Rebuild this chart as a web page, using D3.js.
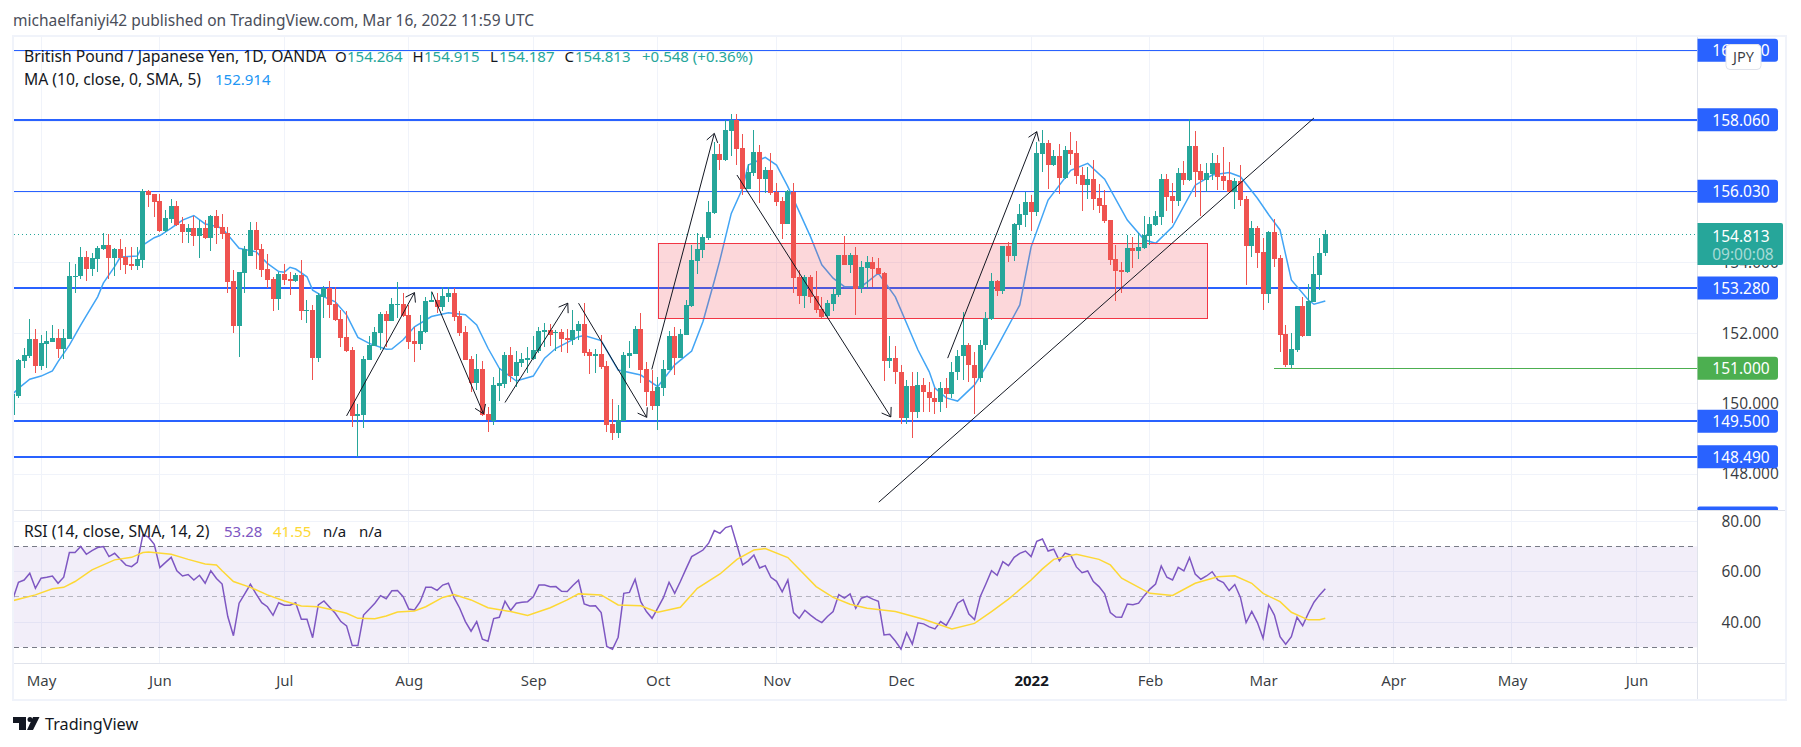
<!DOCTYPE html>
<html>
<head>
<meta charset="utf-8">
<script src="https://cdn.jsdelivr.net/npm/d3@7"></script>
<style>
  html, body { margin: 0; padding: 0; background: #fff; }
  svg { display: block; }
  text { font-family: "Noto Sans", sans-serif; }
</style>
</head>
<body>
<svg id="chart" width="1801" height="747"></svg>
<script>
'use strict'

const highs = [150.39,151.27,151.58,152.40,152.12,151.95,152.06,152.23,152.12,152.12,154.02,153.96,154.45,154.33,154.28,154.48,154.84,154.81,154.42,154.67,
  154.45,154.45,154.45,156.09,156.06,155.95,155.95,155.50,155.81,155.75,155.30,155.10,155.33,155.21,155.21,155.35,155.50,155.38,155.01,153.79,
  153.74,154.48,155.16,155.16,154.53,154.25,153.59,153.74,153.96,153.74,153.71,154.08,152.94,152.80,153.14,153.34,153.48,153.31,152.66,152.63,
  151.61,149.99,151.35,151.92,152.17,152.60,152.63,152.99,153.45,153.14,152.80,152.18,152.52,153.03,153.17,153.14,153.31,153.31,153.28,152.63,
  152.20,151.35,151.41,151.21,149.90,150.76,151.01,151.47,151.61,151.49,151.44,151.61,151.92,152.17,152.29,152.26,152.09,152.12,152.12,152.66,
  152.35,152.86,151.55,151.55,151.95,151.21,150.13,149.96,151.47,151.78,152.20,152.57,151.18,150.95,150.76,151.24,152.06,152.17,152.12,152.94,
  154.50,154.84,154.82,155.75,157.43,157.37,158.05,158.22,158.22,157.65,156.80,157.77,157.34,156.72,157.11,156.26,155.87,156.06,156.26,153.79,
  153.65,153.65,153.76,153.03,152.94,153.25,154.22,154.76,154.28,154.45,154.05,154.19,154.16,154.13,153.74,151.92,151.64,151.10,150.67,150.90,
  150.90,150.73,150.61,150.44,150.61,150.73,151.18,151.52,152.60,151.72,151.47,151.81,152.60,153.71,153.51,154.47,154.59,155.13,155.67,156.01,
  155.92,157.43,157.77,157.48,157.20,157.37,157.31,157.71,157.46,156.72,156.72,156.92,156.23,156.06,155.21,154.50,154.02,154.79,154.73,154.84,
  155.33,155.30,155.47,156.52,156.52,156.26,156.69,156.89,158.08,157.74,156.80,156.83,157.11,157.06,157.29,156.86,156.40,156.77,155.89,155.18,
  155.04,154.70,154.90,155.24,154.22,152.23,152.00,152.77,153.03,153.40,154.19,154.70,154.915]

const opens = [149.68,150.22,151.21,151.35,151.83,151.07,151.69,151.75,151.86,151.55,151.83,153.60,153.62,154.16,153.82,154.11,154.39,154.50,154.14,154.39,
  154.16,153.96,153.91,154.08,156.04,155.95,155.75,154.90,155.24,155.61,155.10,154.87,154.99,154.76,154.99,154.70,155.33,155.01,154.84,153.48,
  152.20,153.71,154.19,154.93,154.39,153.82,153.54,152.97,153.68,153.54,153.48,153.65,152.63,152.66,151.30,153.03,153.28,152.83,152.40,151.89,
  151.52,149.65,149.68,151.24,151.64,152.00,152.54,152.35,152.80,152.83,152.52,151.78,151.69,152.03,152.89,152.94,152.74,153.03,153.14,152.49,
  152.03,151.27,150.58,150.98,149.71,149.51,150.50,150.56,151.38,150.78,151.15,151.24,151.27,151.49,152.03,152.09,152.00,152.03,151.86,151.81,
  152.06,152.26,151.47,151.35,151.41,151.07,149.42,149.17,149.51,151.35,151.41,152.12,150.98,150.36,149.93,150.44,150.95,151.92,151.30,151.95,
  152.77,154.05,154.36,154.70,155.41,157.09,156.92,157.74,158.05,157.26,156.09,156.55,157.14,156.38,156.63,156.01,155.75,155.10,156.01,153.59,
  153.06,153.59,153.06,152.69,152.49,152.83,153.08,154.22,153.94,154.22,153.28,153.85,154.02,153.85,153.71,151.21,151.30,150.90,149.59,150.50,
  149.76,150.53,150.33,150.16,150.05,150.44,150.27,150.90,151.35,151.66,151.10,150.73,151.66,152.40,153.48,153.20,154.47,154.19,155.07,155.35,
  155.72,155.44,157.09,157.40,156.77,157.03,156.41,157.20,157.11,156.49,156.21,156.38,155.84,155.64,155.21,154.11,153.79,153.74,154.42,154.33,
  154.42,154.76,155.07,155.30,156.38,155.89,155.75,156.55,156.35,157.31,156.60,156.35,156.52,156.83,156.46,156.35,156.01,156.32,155.81,154.48,
  154.99,154.30,153.11,154.87,154.13,151.98,151.10,151.52,152.77,151.92,152.89,153.65,154.264]

const lows = [149.62,150.16,151.01,151.30,150.87,150.95,151.01,151.75,151.30,151.27,151.83,153.14,153.54,153.48,153.62,153.74,154.36,153.54,153.62,153.79,
  153.68,153.79,153.79,153.85,155.58,155.30,154.87,154.87,155.13,155.04,154.56,154.56,154.48,154.13,154.67,154.33,154.53,154.67,153.14,152.00,
  151.32,153.14,154.19,153.82,153.59,153.28,152.63,152.66,153.37,153.08,153.45,152.37,152.29,150.67,151.18,152.43,152.43,152.35,151.61,151.47,
  149.34,148.49,149.31,151.24,151.64,151.52,151.61,152.35,152.43,152.46,151.55,151.18,151.52,152.00,152.89,152.57,152.63,152.89,152.35,151.92,
  151.24,150.33,150.39,149.65,149.19,149.39,150.07,150.44,150.61,150.47,151.04,150.87,151.24,151.44,151.61,151.64,151.49,151.47,151.44,151.66,
  151.81,151.35,150.84,150.87,150.98,149.19,148.97,149.02,149.51,151.01,151.41,150.58,149.93,149.82,149.25,150.22,150.95,150.81,151.30,151.95,
  152.74,153.68,154.13,154.65,155.38,156.63,156.89,157.03,156.77,155.92,156.09,156.46,155.69,155.98,155.92,155.61,154.67,155.10,153.14,152.83,
  152.71,152.86,152.57,152.43,152.46,152.63,153.03,153.94,153.71,152.52,153.14,153.28,153.31,153.68,150.64,151.01,150.56,149.42,149.42,149.02,
  149.59,149.76,149.76,149.71,149.76,149.87,150.16,150.67,150.67,150.61,149.71,150.61,151.52,152.37,153.06,153.11,154.02,154.05,154.93,155.01,
  154.90,155.33,156.57,156.09,156.75,155.95,156.38,156.77,156.23,155.47,155.81,155.50,155.41,155.13,153.93,152.91,153.14,153.71,153.85,154.11,
  154.39,154.50,155.04,155.07,155.47,155.13,155.61,156.21,156.32,155.87,155.33,156.01,156.35,156.06,156.06,155.98,155.52,155.61,153.37,154.16,
  153.85,152.66,152.86,153.88,151.47,151.04,151.01,151.47,151.89,151.92,152.89,153.22,154.187]

const closes = [150.27,151.24,151.38,151.83,151.07,151.72,151.78,151.86,151.55,151.86,153.62,153.62,154.16,153.82,154.14,154.42,154.50,154.14,154.39,154.14,
  153.94,153.91,154.11,156.04,155.92,155.72,154.90,155.27,155.61,155.07,154.87,154.99,154.76,154.99,154.70,155.33,154.99,154.82,153.45,152.20,
  153.74,154.39,154.93,154.36,153.79,153.51,152.97,153.68,153.51,153.48,153.65,152.63,152.66,151.30,153.08,153.28,152.80,152.37,151.86,151.49,
  149.65,149.71,151.27,151.66,152.03,152.54,152.35,152.83,152.83,152.49,151.75,151.69,152.06,152.91,152.94,152.74,153.06,153.14,152.46,152.00,
  151.24,150.58,150.98,149.68,149.53,150.53,150.58,151.38,150.78,151.18,151.27,151.30,151.52,152.06,152.09,151.94,152.03,151.83,151.81,152.09,
  152.26,151.44,151.35,151.41,151.04,149.39,149.17,149.53,151.38,151.44,152.12,150.95,150.33,149.93,150.47,150.98,151.92,151.30,151.98,152.80,
  154.08,154.39,154.73,155.44,157.09,156.92,157.77,158.05,157.23,156.09,156.58,157.14,156.38,156.63,155.98,155.72,155.10,156.04,153.57,153.06,
  153.59,153.03,152.66,152.46,152.86,153.11,154.22,153.94,154.22,153.25,153.88,154.02,153.82,153.68,151.21,151.30,150.90,149.59,150.50,149.76,
  150.53,150.33,150.16,150.05,150.44,150.27,150.90,151.35,151.66,151.10,150.73,151.66,152.43,153.48,153.20,154.47,154.19,155.10,155.38,155.72,
  155.44,157.11,157.40,156.77,157.03,156.41,157.20,157.09,156.46,156.21,156.38,155.81,155.61,155.18,154.08,153.76,153.74,154.42,154.33,154.45,
  154.79,155.10,155.33,156.38,155.87,155.75,156.55,156.35,157.31,156.58,156.35,156.55,156.83,156.43,156.32,156.01,156.32,155.78,154.48,154.99,
  154.28,153.11,154.87,154.11,151.95,151.10,151.55,152.77,151.92,152.91,153.68,154.28,154.813]

const maBars = [0,1,3,5,7,8,10,12,13,15,16,18,19,22,23,25,26,28,30,32,34,35,37,39,40,43,45,47,48,49,50,52,53,55,57,59,61,63,66,67,69,71,74,77,80,82,84,86,89,92,94,96,100,101,104,107,111,114,117,120,122,124,125,127,129,130,133,135,137,139,141,143,145,147,150,153,156,160,162,163,165,167,170,172,174,178,180,183,187,190,193,197,200,202,205,209,212,215,217,220,222,224,226,229,230,232]
const maValues = [150.27,150.43,150.69,150.78,150.93,151.19,151.66,152.23,152.50,153.03,153.42,153.89,154.16,154.19,154.50,154.71,154.77,154.98,155.21,155.34,155.10,155.07,154.98,154.60,154.41,154.31,153.98,153.75,153.73,153.87,153.82,153.60,153.22,153.03,152.89,152.52,151.88,151.71,151.54,151.55,151.81,152.18,152.47,152.58,152.52,152.23,151.57,151.00,150.64,150.78,151.29,151.57,151.90,151.93,151.79,150.95,150.81,150.48,151.10,151.49,152.33,153.48,154.08,155.40,156.11,156.77,156.99,156.77,156.16,155.45,154.74,153.94,153.56,153.32,153.32,153.70,153.03,151.52,150.90,150.44,150.16,150.07,150.53,151.04,151.61,152.80,154.45,155.78,156.62,156.82,156.37,155.21,154.65,154.55,155.02,156.20,156.49,156.56,156.44,155.83,155.36,154.93,153.51,152.94,152.82,152.914]

const rsiValues = [49.1,55.8,56.7,59.4,53.4,57.4,57.8,58.3,55.4,57.8,67.6,67.6,70.0,66.9,68.4,69.6,70.0,66.0,67.3,64.9,
  62.6,62.0,63.7,74.6,73.7,70.9,61.6,63.7,65.7,60.4,58.3,58.9,56.7,58.6,55.4,60.4,57.3,55.1,42.2,34.6,
  47.5,51.2,55.0,51.2,47.7,46.1,42.7,47.7,46.7,46.7,47.7,41.1,41.1,33.8,46.8,48.4,45.9,43.5,40.2,38.5,
  30.7,30.7,42.8,45.1,47.5,50.5,49.3,52.4,52.5,50.1,45.2,44.8,48.1,53.8,53.8,52.6,54.7,55.4,49.7,45.5,
  40.2,36.4,40.2,33.2,32.4,41.4,41.9,48.3,44.6,47.5,47.9,48.1,50.0,54.7,54.7,54.0,54.1,52.2,52.1,54.5,
  56.6,47.2,46.4,46.5,43.8,30.3,29.2,34.0,51.4,51.8,57.0,48.1,44.2,41.5,45.5,49.7,55.8,51.4,56.1,61.1,
  66.0,67.3,68.6,71.3,76.3,75.2,77.5,78.2,70.6,62.7,64.3,66.6,61.5,62.4,57.8,56.2,52.0,56.7,43.8,41.5,
  44.7,42.8,41.1,39.8,42.2,44.2,50.9,49.5,51.2,45.5,49.5,50.2,49.1,48.3,34.9,35.2,32.5,29.3,35.8,31.3,
  39.7,39.3,38.1,37.3,40.2,38.7,42.7,47.5,48.9,43.2,41.0,50.1,55.1,60.4,58.6,64.0,62.4,65.7,67.3,68.2,
  66.0,72.1,73.0,68.2,68.9,64.3,67.4,66.6,61.9,59.6,60.3,56.1,54.1,51.2,43.8,42.0,41.9,47.2,46.9,47.5,
  50.5,53.1,55.1,62.3,57.8,56.7,61.7,60.3,65.6,59.1,57.0,58.3,60.0,56.7,55.7,52.5,54.9,49.8,39.8,44.2,
  39.8,33.6,46.9,42.8,34.2,31.2,34.2,41.9,38.6,43.5,47.9,50.8,53.28]

const rsiMaBars = [0,4,7,9,11,14,16,18,21,23,24,28,31,34,36,37,39,42,45,48,51,54,57,59,61,64,66,68,71,73,76,78,81,84,88,91,95,98,100,104,107,111,114,118,121,125,128,131,133,137,142,145,148,151,156,161,166,170,173,176,180,182,184,188,192,194,196,201,205,209,213,216,219,221,224,226,229,231,232]
const rsiMaValues = [48.5,50.8,53.2,53.8,56.1,60.7,62.7,64.7,65.7,67.6,67.8,66.9,64.9,63.1,62.7,60.4,56.1,53.8,50.8,48.4,46.4,46.1,44.6,43.5,41.5,41.3,42.4,44.0,44.4,46.1,49.8,50.9,48.8,45.7,44.2,42.6,45.7,48.8,51.2,50.8,46.8,46.5,43.9,45.9,53.4,59.1,64.9,68.6,69.2,65.6,54.1,49.8,47.1,45.5,44.2,41.1,37.3,39.5,44.2,49.1,56.7,61.1,64.9,66.9,64.9,62.7,57.4,51.4,50.6,55.4,58.0,58.4,55.4,51.4,48.1,43.9,40.9,40.9,41.55]

const monthBars = [5,26,48,70,92,114,135,157,180,201,221,244,265,287]
const monthLabels = ['May','Jun','Jul','Aug','Sep','Oct','Nov','Dec','2022','Feb','Mar','Apr','May','Jun']

const priceTicks = [148,150,152,154]
const priceGrid = [148,150,152,154,156,158,160]
const rsiTicks = [40,60,80]
const rsiBands = [70,50,30]

const levels = [160.03,158.06,156.03,153.28,149.5,148.49]
const thinLevels = [160.03,156.03]
const supportLevel = 151
const supportBar = 223
const lastPrice = 154.813

const arrowFrom = [[59,149.65],[74.05,153.18],[87,150.03],[100,152.85],[112.95,150.97],[128,156.49],[165.25,151.29]]
const arrowTo = [[71,153.15],[83.2,149.71],[98.1,152.85],[112.05,149.61],[124,157.67],[155.2,149.62],[181,157.72]]
const trendFrom = [153.07,147.2]
const trendTo = [230,158.11]
const zoneBars = [114.1,211.2]
const zonePrices = [154.55,152.41]

const GREEN = '#26a69a'
const RED = '#ef5350'
const BLUE = '#2962ff'
const GRID = '#f0f3fa'
const LINE = '#e0e3eb'
const INK = '#131722'

const paneLeft = 13.5
const axisX = 1697.5
const svg = d3.select('#chart')

const x = d3.scaleLinear().domain([0, 232]).range([12.8, 1325.3])
const y = d3.scaleLinear().domain([148, 158.06]).range([474, 119.7])
const yRsi = d3.scaleLinear().domain([30, 80]).range([647.3, 521.3])

svg.append('clipPath').attr('id', 'priceClip').append('rect')
  .attr('x', paneLeft).attr('y', 37).attr('width', axisX - paneLeft).attr('height', 473)
svg.append('clipPath').attr('id', 'rsiClip').append('rect')
  .attr('x', paneLeft).attr('y', 511).attr('width', axisX - paneLeft).attr('height', 152)

// header
svg.append('text').attr('x', 13).attr('y', 26).attr('font-size', 15.5).attr('fill', '#4a4e5a')
  .text('michaelfaniyi42 published on TradingView.com, Mar 16, 2022 11:59 UTC')

// grid
const grid = svg.append('g').attr('stroke', GRID).attr('stroke-width', 1).attr('shape-rendering', 'crispEdges')
grid.selectAll('.v').data(monthBars).enter().append('line')
  .attr('x1', d => x(d)).attr('x2', d => x(d)).attr('y1', 37).attr('y2', 663)
grid.selectAll('.h').data(priceGrid).enter().append('line')
  .attr('x1', paneLeft).attr('x2', axisX).attr('y1', d => y(d)).attr('y2', d => y(d))
grid.selectAll('.r').data(rsiTicks).enter().append('line')
  .attr('x1', paneLeft).attr('x2', axisX).attr('y1', d => yRsi(d)).attr('y2', d => yRsi(d))

// price pane
const price = svg.append('g').attr('clip-path', 'url(#priceClip)')
price.append('line').attr('x1', paneLeft).attr('x2', axisX)
  .attr('y1', y(lastPrice)).attr('y2', y(lastPrice))
  .attr('stroke', GREEN).attr('stroke-dasharray', '1 3').attr('shape-rendering', 'crispEdges')
price.selectAll('.level').data(levels).enter().append('line')
  .attr('x1', paneLeft).attr('x2', axisX)
  .attr('y1', d => y(d)).attr('y2', d => y(d))
  .attr('stroke', BLUE).attr('shape-rendering', 'crispEdges')
  .attr('stroke-width', d => thinLevels.includes(d) ? 1 : 2)
price.append('line').attr('x1', x(supportBar)).attr('x2', axisX)
  .attr('y1', y(supportLevel)).attr('y2', y(supportLevel))
  .attr('stroke', '#4caf50').attr('shape-rendering', 'crispEdges')

const maLine = d3.line().x(d => x(d[0])).y(d => y(d[1]))
price.append('path').attr('d', maLine(d3.zip(maBars, maValues)))
  .attr('fill', 'none').attr('stroke', '#42a5f5').attr('stroke-width', 1.5)

price.append('rect').attr('x', x(zoneBars[0])).attr('width', x(zoneBars[1]) - x(zoneBars[0]))
  .attr('y', y(zonePrices[0])).attr('height', y(zonePrices[1]) - y(zonePrices[0]))
  .attr('fill', 'rgba(242,54,69,0.2)').attr('stroke', '#f23645').attr('shape-rendering', 'crispEdges')

// candles
const candles = price.selectAll('.candle').data(d3.range(closes.length)).enter().append('g')
  .attr('shape-rendering', 'crispEdges')
candles.append('line')
  .attr('x1', d => x(d)).attr('x2', d => x(d))
  .attr('y1', d => y(highs[d])).attr('y2', d => y(lows[d]))
  .attr('stroke', d => closes[d] >= opens[d] ? GREEN : RED)
candles.append('rect')
  .attr('x', d => x(d) - 2.5).attr('width', 5)
  .attr('y', d => y(Math.max(opens[d], closes[d])))
  .attr('height', d => Math.max(1, Math.abs(y(opens[d]) - y(closes[d]))))
  .attr('fill', d => closes[d] >= opens[d] ? GREEN : RED)

// drawn arrows
const arrows = price.append('g').attr('stroke', INK).attr('fill', 'none')
d3.zip(arrowFrom, arrowTo).forEach(pair => {
  const x0 = x(pair[0][0]), y0 = y(pair[0][1]), x1 = x(pair[1][0]), y1 = y(pair[1][1])
  const ang = Math.atan2(y0 - y1, x0 - x1)
  const path = d3.path()
  path.moveTo(x0, y0)
  path.lineTo(x1, y1)
  path.moveTo(x1 + 10 * Math.cos(ang - 0.6), y1 + 10 * Math.sin(ang - 0.6))
  path.lineTo(x1, y1)
  path.lineTo(x1 + 10 * Math.cos(ang + 0.6), y1 + 10 * Math.sin(ang + 0.6))
  arrows.append('path').attr('d', path.toString())
})
arrows.append('line').attr('x1', x(trendFrom[0])).attr('y1', y(trendFrom[1]))
  .attr('x2', x(trendTo[0])).attr('y2', y(trendTo[1]))

// rsi pane
const rsi = svg.append('g').attr('clip-path', 'url(#rsiClip)')
rsi.append('rect').attr('x', paneLeft).attr('width', axisX - paneLeft)
  .attr('y', yRsi(70)).attr('height', yRsi(30) - yRsi(70))
  .attr('fill', 'rgba(126,87,194,0.1)')
rsi.selectAll('.band').data(rsiBands).enter().append('line')
  .attr('x1', paneLeft).attr('x2', axisX)
  .attr('y1', d => yRsi(d)).attr('y2', d => yRsi(d))
  .attr('stroke', '#787b86').attr('stroke-dasharray', '5 4').attr('shape-rendering', 'crispEdges')
  .attr('stroke-opacity', d => d === 50 ? 0.5 : 1)
const rsiLine = d3.line().x((d, i) => x(i)).y(d => yRsi(d))
rsi.append('path').attr('d', rsiLine(rsiValues))
  .attr('fill', 'none').attr('stroke', '#7e57c2').attr('stroke-width', 1.5)
const rsiMaLine = d3.line().x(d => x(d[0])).y(d => yRsi(d[1]))
rsi.append('path').attr('d', rsiMaLine(d3.zip(rsiMaBars, rsiMaValues)))
  .attr('fill', 'none').attr('stroke', '#fdd835').attr('stroke-width', 1.5)

// frame
svg.append('line').attr('x1', paneLeft).attr('x2', 1786).attr('y1', 510.5).attr('y2', 510.5).attr('stroke', LINE)
svg.append('line').attr('x1', paneLeft).attr('x2', 1786).attr('y1', 663.5).attr('y2', 663.5).attr('stroke', LINE)
svg.append('line').attr('x1', axisX).attr('x2', axisX).attr('y1', 37).attr('y2', 699).attr('stroke', LINE)
svg.append('rect').attr('x', 13).attr('y', 36).attr('width', 1773).attr('height', 664)
  .attr('fill', 'none').attr('stroke', GRID).attr('stroke-width', 2)

// axes
const axisFont = 15.5
const priceAxis = svg.append('g').attr('transform', `translate(${axisX},0)`)
  .call(d3.axisRight(y).tickValues(priceTicks).tickFormat(d3.format('.3f')).tickSize(0).tickPadding(24))
const rsiAxis = svg.append('g').attr('transform', `translate(${axisX},0)`)
  .call(d3.axisRight(yRsi).tickValues(rsiTicks).tickFormat(d3.format('.2f')).tickSize(0).tickPadding(24))
const timeAxis = svg.append('g').attr('transform', 'translate(0,663.5)')
  .call(d3.axisBottom(x).tickValues(monthBars).tickFormat((d, i) => monthLabels[i]).tickSize(0).tickPadding(12))
;[priceAxis, rsiAxis, timeAxis].forEach(a => {
  a.select('.domain').remove()
  a.selectAll('text').attr('fill', INK).attr('fill-opacity', 0.85).attr('font-size', axisFont).attr('font-family', '"Noto Sans", sans-serif')
})
timeAxis.selectAll('text').attr('font-size', 15)
timeAxis.selectAll('text').filter(d => d === 180).attr('font-weight', 700).attr('fill-opacity', 1)

// price labels on the axis
function axisTag (value, text, color) {
  const cy = y(value)
  svg.append('path')
    .attr('d', `M${axisX},${cy - 11.5}H1775a3,3 0 0 1 3,3V${cy + 8.5}a3,3 0 0 1 -3,3H${axisX}Z`)
    .attr('fill', color)
  svg.append('text').attr('x', 1741).attr('y', cy + 6).attr('text-anchor', 'middle')
    .attr('font-size', axisFont).attr('fill', '#fff').text(text)
}
levels.forEach(l => axisTag(l, d3.format('.3f')(l), BLUE))
axisTag(supportLevel, d3.format('.3f')(supportLevel), '#4caf50')

svg.append('path').attr('d', `M${axisX},223H1781a2,2 0 0 1 2,2V263a2,2 0 0 1 -2,2H${axisX}Z`).attr('fill', GREEN)
svg.append('text').attr('x', 1741).attr('y', 241.5).attr('text-anchor', 'middle')
  .attr('font-size', axisFont).attr('fill', '#fff').text(d3.format('.3f')(lastPrice))
svg.append('text').attr('x', 1743).attr('y', 260).attr('text-anchor', 'middle')
  .attr('font-size', axisFont).attr('fill', '#fff').attr('fill-opacity', 0.6).text('09:00:08')

// clipped top of a tag from the pane below
svg.append('path').attr('d', `M${axisX},510V508.5a2,2 0 0 1 2,-2H1776a2,2 0 0 1 2,2V510Z`).attr('fill', BLUE)

svg.append('rect').attr('x', 1726).attr('y', 44.5).attr('width', 35).attr('height', 25).attr('rx', 4)
  .attr('fill', '#fff').attr('stroke', '#e0e3eb')
svg.append('text').attr('x', 1743.5).attr('y', 62).attr('text-anchor', 'middle')
  .attr('font-size', 14.5).attr('fill', INK).attr('fill-opacity', 0.85).text('JPY')

// legends
function legend (xPos, yPos, text, color, size) {
  svg.append('text').attr('x', xPos).attr('y', yPos).attr('font-size', size || 15)
    .attr('fill', color).text(text)
}
legend(24, 62, 'British Pound / Japanese Yen, 1D, OANDA', INK, 15.7)
legend(335, 62, 'O', INK); legend(347, 62, '154.264', GREEN)
legend(412.5, 62, 'H', INK); legend(424, 62, '154.915', GREEN)
legend(490, 62, 'L', INK); legend(499, 62, '154.187', GREEN)
legend(564.5, 62, 'C', INK); legend(575, 62, '154.813', GREEN)
legend(642, 62, '+0.548 (+0.36%)', GREEN)
legend(24, 85, 'MA (10, close, 0, SMA, 5)', INK, 15.7); legend(215, 85, '152.914', '#2196f3')
legend(24, 537, 'RSI (14, close, SMA, 14, 2)', INK, 15.7); legend(224, 537, '53.28', '#7e57c2')
legend(273, 537, '41.55', '#fdd835'); legend(323, 537, 'n/a', INK); legend(359, 537, 'n/a', INK)

// logo
svg.append('path').attr('fill', INK)
  .attr('d', 'M13,717H26V730H19V723H13Z M39.5,717L33,730H27L33,717Z')
svg.append('circle').attr('cx', 30).attr('cy', 719.5).attr('r', 2.5).attr('fill', INK)
svg.append('text').attr('x', 45).attr('y', 730).attr('font-size', 16.2).attr('fill', INK).text('TradingView')
</script>
</body>
</html>
